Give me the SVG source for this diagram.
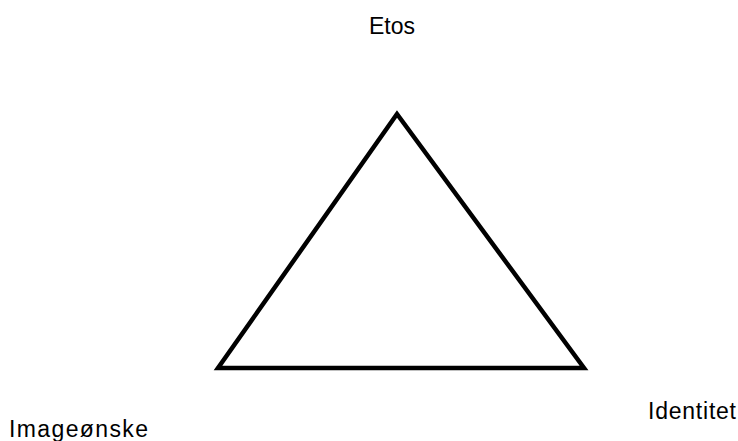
<svg xmlns="http://www.w3.org/2000/svg" width="738" height="441" viewBox="0 0 738 441">
<style>
.lbl{font-family:"Liberation Sans",Arial,sans-serif;font-size:23px;fill:#000}
.tri{fill:none;stroke:#000;stroke-width:4.5;stroke-linejoin:miter}
</style>
<rect width="738" height="441" fill="#fff"/>
<g id="connectors">
<path class="tri" d="M397,114 L218,368 L584,368 Z"/>
</g>
<g id="etos"><text class="lbl" x="369" y="34" textLength="46" lengthAdjust="spacing">Etos</text></g>
<g id="imageonske"><text class="lbl" x="9" y="437" textLength="139" lengthAdjust="spacing">Imageønske</text></g>
<g id="identitet"><text class="lbl" x="648" y="419" textLength="88" lengthAdjust="spacing">Identitet</text></g>
</svg>
